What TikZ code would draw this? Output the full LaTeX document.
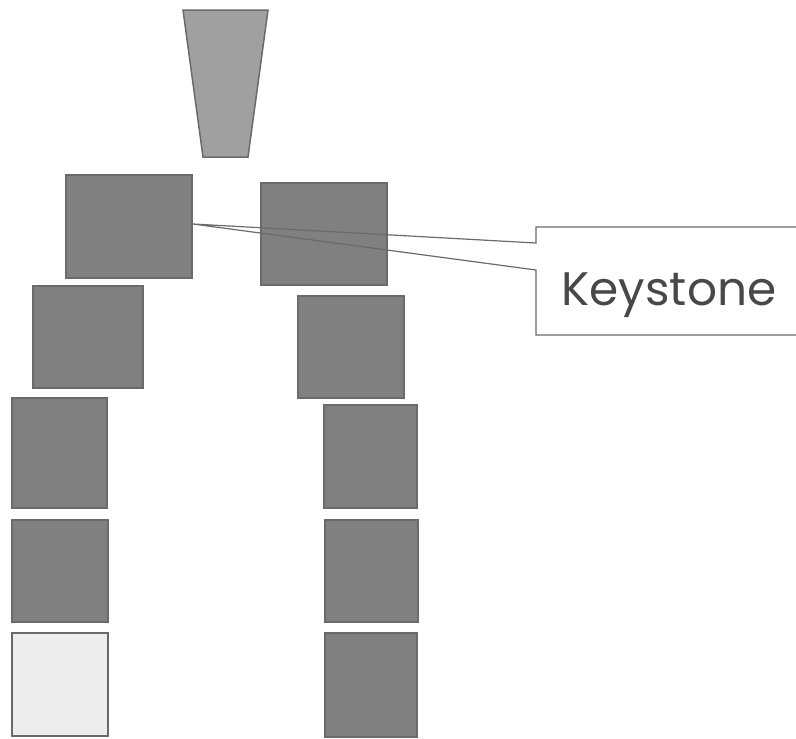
\documentclass[tikz,border=0pt]{standalone}
\usepackage{fontspec}
\newfontfamily\calloutfont{Poppins}
\definecolor{stone}{HTML}{808080}
\definecolor{stoneedge}{HTML}{6A6A6A}
\definecolor{keyfill}{HTML}{A0A0A0}
\definecolor{lightfill}{HTML}{EDEDED}
\definecolor{txt}{HTML}{484848}
\tikzset{
  stonebox/.style={draw=stoneedge, fill=stone, line width=1.5pt},
  lightbox/.style={draw=stoneedge, fill=lightfill, line width=1.5pt},
  keystone/.style={draw=stoneedge, fill=keyfill, line width=1.5pt},
  calloutline/.style={draw=stoneedge, line width=1.2pt},
}
\begin{document}
\begin{tikzpicture}[x=1pt,y=-1pt]
\useasboundingbox (0,0) rectangle (796,739);
% keystone trapezoid
\draw[keystone] (183,10) -- (268,10) -- (248,157) -- (203,157) -- cycle;
% left column
\draw[stonebox] (66,175) rectangle (192,278);
\coordinate (apex) at (193,224);
\draw[stonebox] (33,286) rectangle (143,388);
\draw[stonebox] (12,398) rectangle (107,508);
\draw[stonebox] (12,520) rectangle (108,622);
\draw[lightbox] (12,633) rectangle (108,736);
% right column
\draw[stonebox] (261,183) rectangle (387,285);
\draw[stonebox] (298,296) rectangle (404,398);
\draw[stonebox] (324,405) rectangle (417,508);
\draw[stonebox] (325,520) rectangle (418,622);
\draw[stonebox] (325,633) rectangle (417,737);
% callout
\coordinate (ctl) at (536,227);
\coordinate (cbl) at (536,335);
\fill[white] (ctl) rectangle (800,335);
\draw[calloutline] (800,227) -- (ctl) -- (536,243) -- (apex) -- (536,270) -- (cbl) -- (800,335);
\node[font=\calloutfont\fontsize{47}{56}\selectfont, text=txt, anchor=base] (label) at (669,305) {Keystone};
\end{tikzpicture}
\end{document}
